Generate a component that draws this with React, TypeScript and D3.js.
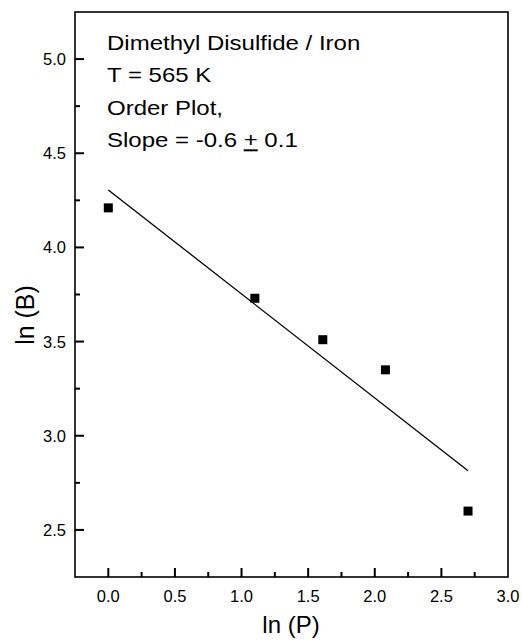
import React, { useEffect, useRef } from 'react';
import * as d3 from 'd3';

// ln(P) values and measured ln(B)
const lnP = [0.0, 1.1, 1.61, 2.08, 2.7];
const lnB = [4.21, 3.73, 3.51, 3.35, 2.6];

// fitted line end points
const fitX = [0.0, 2.7];
const fitY = [4.305, 2.814];

const xTicks = [0.0, 0.5, 1.0, 1.5, 2.0, 2.5, 3.0];
const yTicks = [2.5, 3.0, 3.5, 4.0, 4.5, 5.0];
const xMinor = [0.25, 0.75, 1.25, 1.75, 2.25, 2.75];
const yMinor = [2.75, 3.25, 3.75, 4.25, 4.75];

const notes = ['Dimethyl Disulfide / Iron', 'T = 565 K', 'Order Plot,'];

const App = () => {
  const ref = useRef<SVGSVGElement>(null);

  useEffect(() => {
    const width = 522;
    const height = 641;
    const left = 75;
    const right = 508;
    const top = 12;
    const bottom = 577;
    const font = '"Liberation Sans", Arial, sans-serif';

    const svg = d3.select(ref.current).attr('width', width).attr('height', height);
    svg.selectAll('*').remove();

    const x = d3.scaleLinear().domain([-0.25, 3.0]).range([left, right]);
    const y = d3.scaleLinear().domain([2.25, 5.25]).range([bottom, top]);

    svg.append('rect').attr('width', width).attr('height', height).attr('fill', '#fff');

    // frame
    svg
      .append('rect')
      .attr('x', left)
      .attr('y', top)
      .attr('width', right - left)
      .attr('height', bottom - top)
      .attr('fill', 'none')
      .attr('stroke', '#000')
      .attr('stroke-width', 1.6);

    // inward ticks
    const ticks = svg.append('g').attr('stroke', '#000').attr('stroke-width', 2);
    const xt = [
      ...xTicks.filter((d) => d < 3).map((v) => ({ v, len: 9 })),
      ...xMinor.map((v) => ({ v, len: 5 })),
    ];
    ticks
      .selectAll('line.xt')
      .data(xt)
      .join('line')
      .attr('class', 'xt')
      .attr('x1', (d) => x(d.v))
      .attr('x2', (d) => x(d.v))
      .attr('y1', bottom)
      .attr('y2', (d) => bottom - d.len);
    const yt = [...yTicks.map((v) => ({ v, len: 9 })), ...yMinor.map((v) => ({ v, len: 5 }))];
    ticks
      .selectAll('line.yt')
      .data(yt)
      .join('line')
      .attr('class', 'yt')
      .attr('y1', (d) => y(d.v))
      .attr('y2', (d) => y(d.v))
      .attr('x1', left)
      .attr('x2', (d) => left + d.len);

    svg
      .append('g')
      .selectAll('text')
      .data(xTicks)
      .join('text')
      .attr('x', (d) => x(d))
      .attr('y', 602)
      .attr('text-anchor', 'middle')
      .attr('font-family', font)
      .attr('font-size', 16.5)
      .text((d) => d.toFixed(1));

    svg
      .append('g')
      .selectAll('text')
      .data(yTicks)
      .join('text')
      .attr('x', 66)
      .attr('y', (d) => y(d) + 6)
      .attr('text-anchor', 'end')
      .attr('font-family', font)
      .attr('font-size', 16.5)
      .text((d) => d.toFixed(1));

    // axis titles
    svg
      .append('text')
      .attr('x', 291)
      .attr('y', 633)
      .attr('text-anchor', 'middle')
      .attr('font-family', font)
      .attr('font-size', 24)
      .text('ln (P)');

    svg
      .append('text')
      .attr('transform', 'translate(34,315) rotate(-90)')
      .attr('text-anchor', 'middle')
      .attr('font-family', font)
      .attr('font-size', 25)
      .text('ln (B)');

    // fit line
    const line = d3
      .line<number>()
      .x((d) => x(d))
      .y((_, i) => y(fitY[i]));
    svg
      .append('path')
      .attr('d', line(fitX))
      .attr('fill', 'none')
      .attr('stroke', '#000')
      .attr('stroke-width', 1.3);

    // data markers
    const s = 9;
    svg
      .append('g')
      .selectAll('rect')
      .data(lnP)
      .join('rect')
      .attr('x', (d) => x(d) - s / 2)
      .attr('y', (_, i) => y(lnB[i]) - s / 2)
      .attr('width', s)
      .attr('height', s)
      .attr('fill', '#000');

    // annotation (slightly wide lettering in the original)
    const ann = svg
      .append('g')
      .attr('transform', 'translate(107,0) scale(1.2,1)')
      .attr('font-family', font)
      .attr('font-size', 20)
      .attr('fill', '#000');
    notes.forEach((t, i) => {
      ann.append('text').attr('x', 0).attr('y', 50 + i * 32.5).text(t);
    });
    const last = ann.append('text').attr('x', 0).attr('y', 147.5);
    last.append('tspan').text('Slope = -0.6 ');
    last.append('tspan').attr('text-decoration', 'underline').text('+');
    last.append('tspan').text(' 0.1');

    return () => {
      d3.select(ref.current).selectAll('*').remove();
    };
  }, []);

  return <svg ref={ref} style={{ position: 'absolute', left: 0, top: 0 }}></svg>;
};

export default App;
